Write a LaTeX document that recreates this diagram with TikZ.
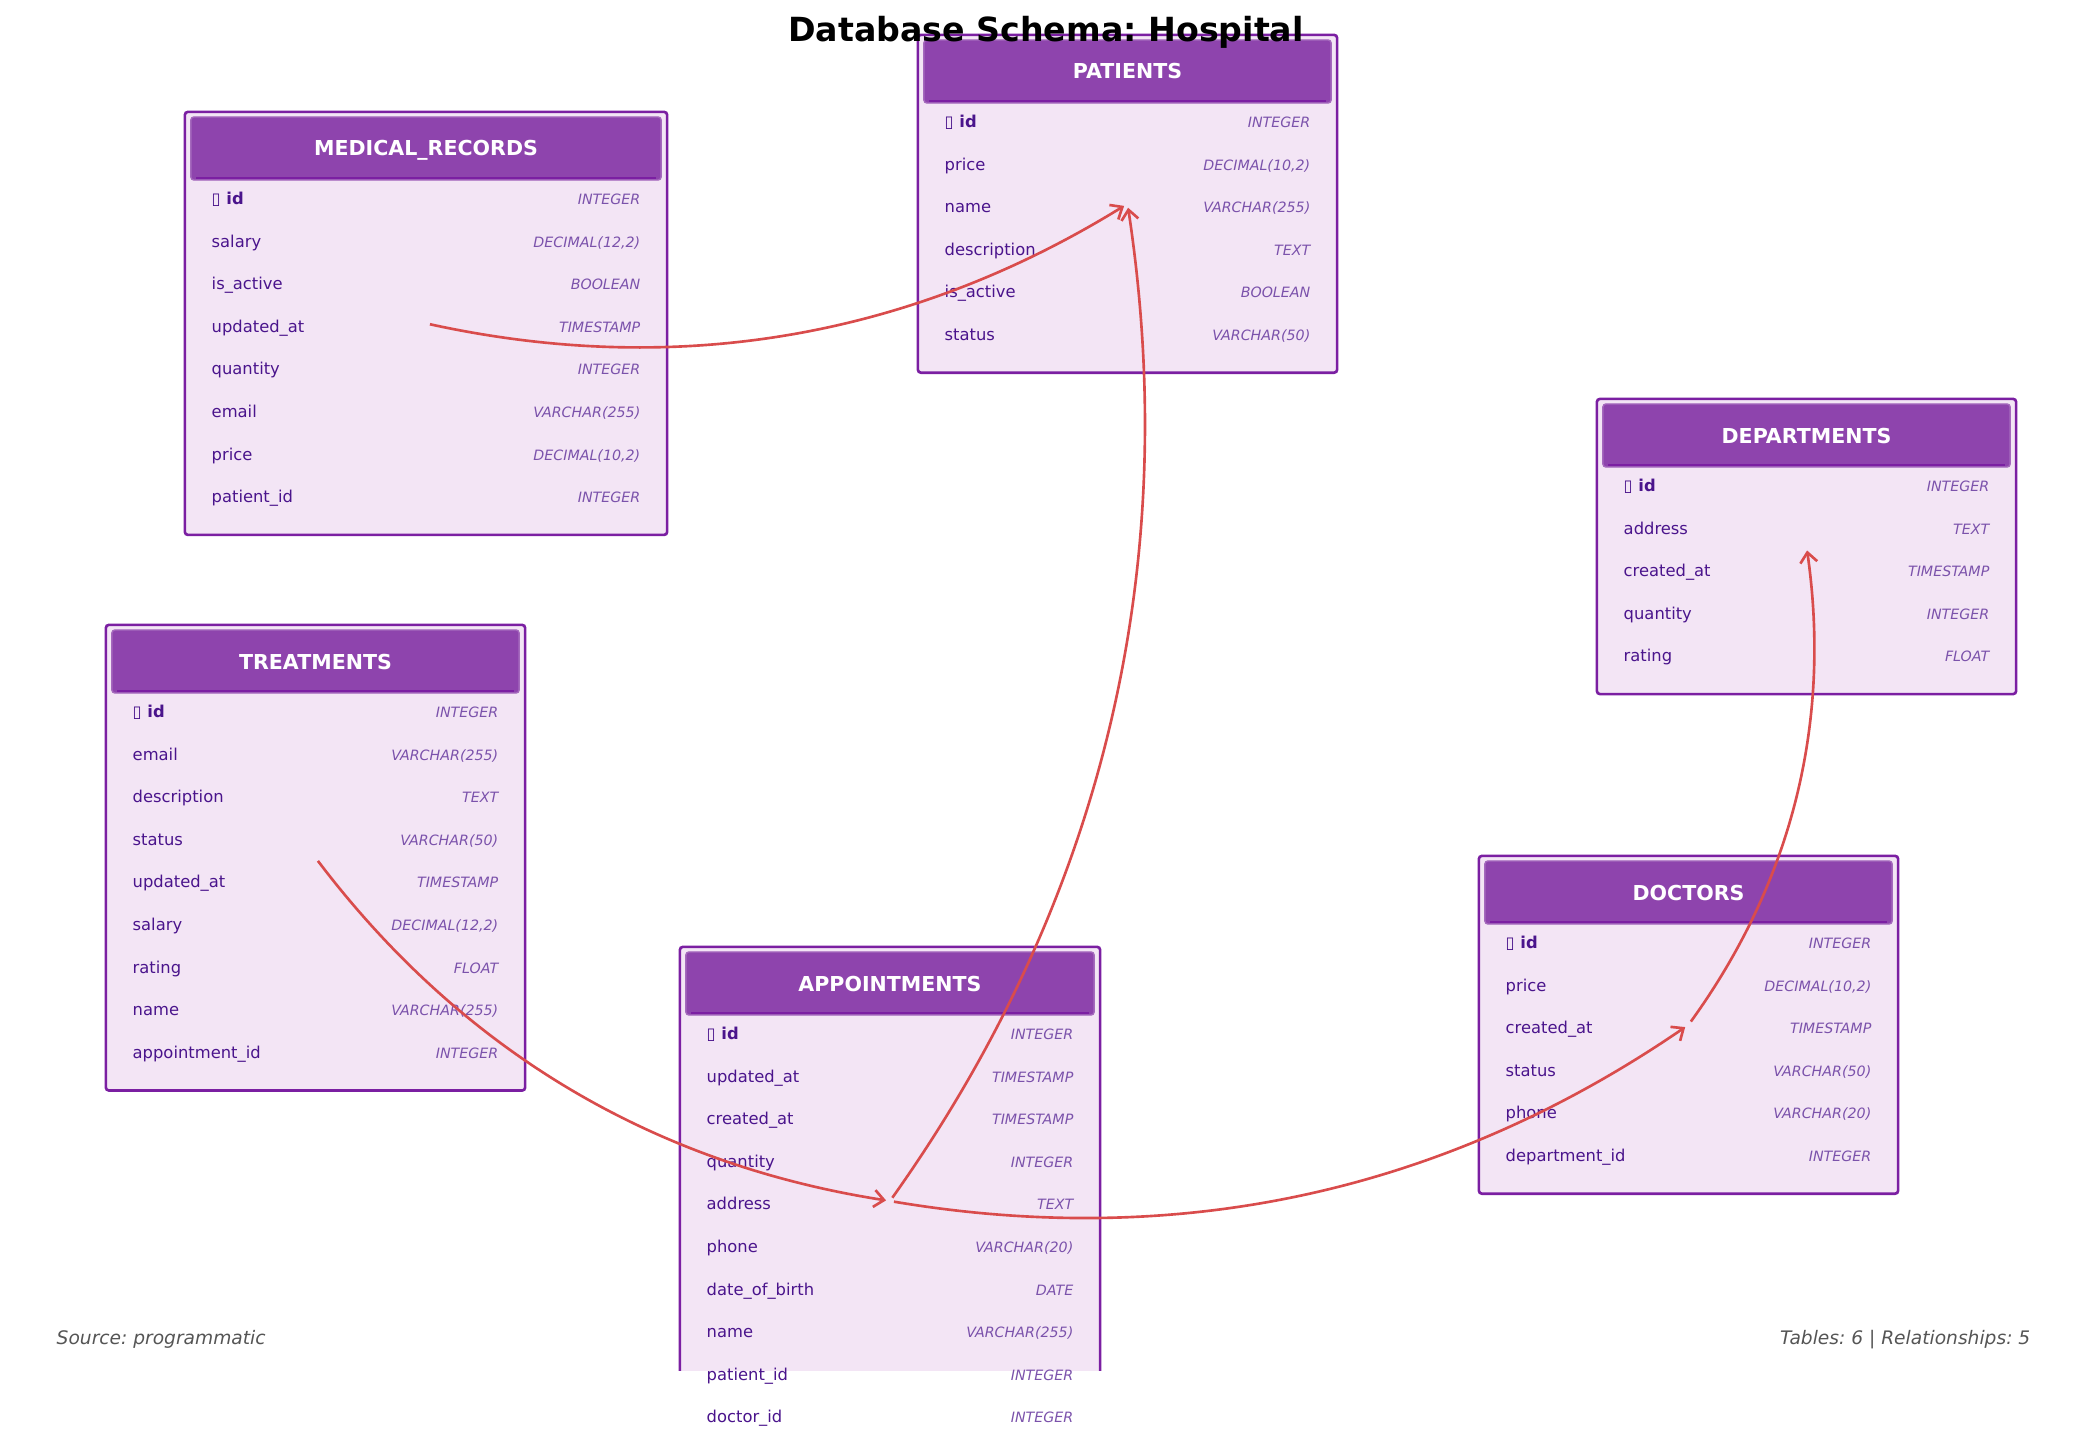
\documentclass[tikz,border=0pt]{standalone}
\usepackage{fontspec}
\setmainfont{DejaVu Sans}[ItalicFont={DejaVu Sans Oblique},BoldFont={DejaVu Sans Bold},BoldItalicFont={DejaVu Sans Bold Oblique}]
\usetikzlibrary{arrows.meta}
\frenchspacing
\definecolor{boxfill}{HTML}{F3E5F5}
\definecolor{boxline}{HTML}{7B1FA2}
\definecolor{headfill}{HTML}{8E44AD}
\definecolor{headedge}{HTML}{A569BD}
\definecolor{fldcol}{HTML}{4A148C}
\definecolor{typcol}{HTML}{7B52AB}
\definecolor{relcol}{HTML}{D94C4C}
\definecolor{footcol}{HTML}{555555}
\begin{document}
\begin{tikzpicture}[x=0.01cm,y=-0.01cm,
  tbl/.style={draw=boxline,fill=boxfill,line width=0.75pt,rounded corners=0.03cm,inner sep=0},
  head/.style={draw=headedge,fill=headfill,line width=0.4pt,rounded corners=0.03cm,minimum height=0.63cm,inner sep=0,
    text=white,font=\bfseries\fontsize{5.85}{6}\selectfont,text height=0.15cm,text depth=0cm},
  headline/.style={draw=boxline,line width=0.6pt},
  fld/.style={anchor=base west,inner sep=0,text=fldcol,font=\fontsize{4.65}{5}\selectfont},
  pk/.style={fld,font=\bfseries\fontsize{4.65}{5}\selectfont},
  typ/.style={anchor=base east,inner sep=0,text=typcol,font=\itshape\fontsize{4.05}{4.5}\selectfont},
  rel/.style={draw=relcol,line width=0.75pt,->,>={Straight Barb[length=0.1cm,width=0.17cm]},
    shorten >=0.04cm,shorten <=0.04cm,looseness=0.92},
  ttl/.style={anchor=base,inner sep=0,font=\bfseries\fontsize{9.45}{11}\selectfont},
  foot/.style={inner sep=0,text=footcol,font=\itshape\fontsize{5.3}{6}\selectfont}]
\useasboundingbox (0,0) rectangle (2085,1440);

% MEDICAL_RECORDS
\node[tbl,minimum width=4.82cm,minimum height=4.228cm] (mr) at (426,323.4) {};
\node[head,minimum width=4.70cm] (mrh) at (426,148.5) {MEDICAL\_RECORDS};
\draw[headline] ([shift={(0.06cm,0.03cm)}]mrh.south west) -- ([shift={(-0.06cm,0.03cm)}]mrh.south east);
\node[pk] (mr1) at (211,204.5) {{\mdseries ▯} id}; \node[typ] (mr1t) at (641,204.5) {INTEGER};
\node[fld] (mr2) at (211,247.1) {salary}; \node[typ] (mr2t) at (641,247.1) {DECIMAL(12,2)};
\node[fld] (mr3) at (211,289.7) {is\_active}; \node[typ] (mr3t) at (641,289.7) {BOOLEAN};
\node[fld] (mr4) at (211,332.3) {updated\_at}; \node[typ] (mr4t) at (641,332.3) {TIMESTAMP};
\node[fld] (mr5) at (211,374.9) {quantity}; \node[typ] (mr5t) at (641,374.9) {INTEGER};
\node[fld] (mr6) at (211,417.5) {email}; \node[typ] (mr6t) at (641,417.5) {VARCHAR(255)};
\node[fld] (mr7) at (211,460.1) {price}; \node[typ] (mr7t) at (641,460.1) {DECIMAL(10,2)};
\node[fld] (mr8) at (211,502.7) {patient\_id}; \node[typ] (mr8t) at (641,502.7) {INTEGER};

% PATIENTS
\node[tbl,minimum width=4.19cm,minimum height=3.376cm] (pat) at (1127.5,203.8) {};
\node[head,minimum width=4.07cm] (path) at (1127.5,71.5) {PATIENTS};
\draw[headline] ([shift={(0.06cm,0.03cm)}]path.south west) -- ([shift={(-0.06cm,0.03cm)}]path.south east);
\node[pk] (pat1) at (944,127.5) {{\mdseries ▯} id}; \node[typ] (pat1t) at (1311,127.5) {INTEGER};
\node[fld] (pat2) at (944,170.1) {price}; \node[typ] (pat2t) at (1311,170.1) {DECIMAL(10,2)};
\node[fld] (pat3) at (944,212.7) {name}; \node[typ] (pat3t) at (1311,212.7) {VARCHAR(255)};
\node[fld] (pat4) at (944,255.3) {description}; \node[typ] (pat4t) at (1311,255.3) {TEXT};
\node[fld] (pat5) at (944,297.9) {is\_active}; \node[typ] (pat5t) at (1311,297.9) {BOOLEAN};
\node[fld] (pat6) at (944,340.5) {status}; \node[typ] (pat6t) at (1311,340.5) {VARCHAR(50)};

% DEPARTMENTS
\node[tbl,minimum width=4.19cm,minimum height=2.95cm] (dep) at (1806.5,546.5) {};
\node[head,minimum width=4.07cm] (deph) at (1806.5,435.5) {DEPARTMENTS};
\draw[headline] ([shift={(0.06cm,0.03cm)}]deph.south west) -- ([shift={(-0.06cm,0.03cm)}]deph.south east);
\node[pk] (dep1) at (1623,491.5) {{\mdseries ▯} id}; \node[typ] (dep1t) at (1990,491.5) {INTEGER};
\node[fld] (dep2) at (1623,534.1) {address}; \node[typ] (dep2t) at (1990,534.1) {TEXT};
\node[fld] (dep3) at (1623,576.7) {created\_at}; \node[typ] (dep3t) at (1990,576.7) {TIMESTAMP};
\node[fld] (dep4) at (1623,619.3) {quantity}; \node[typ] (dep4t) at (1990,619.3) {INTEGER};
\node[fld] (dep5) at (1623,661.9) {rating}; \node[typ] (dep5t) at (1990,661.9) {FLOAT};

% TREATMENTS
\node[tbl,minimum width=4.19cm,minimum height=4.654cm] (tre) at (315.5,857.7) {};
\node[head,minimum width=4.07cm] (treh) at (315.5,661.5) {TREATMENTS};
\draw[headline] ([shift={(0.06cm,0.03cm)}]treh.south west) -- ([shift={(-0.06cm,0.03cm)}]treh.south east);
\node[pk] (tre1) at (132,717.5) {{\mdseries ▯} id}; \node[typ] (tre1t) at (499,717.5) {INTEGER};
\node[fld] (tre2) at (132,760.1) {email}; \node[typ] (tre2t) at (499,760.1) {VARCHAR(255)};
\node[fld] (tre3) at (132,802.7) {description}; \node[typ] (tre3t) at (499,802.7) {TEXT};
\node[fld] (tre4) at (132,845.3) {status}; \node[typ] (tre4t) at (499,845.3) {VARCHAR(50)};
\node[fld] (tre5) at (132,887.9) {updated\_at}; \node[typ] (tre5t) at (499,887.9) {TIMESTAMP};
\node[fld] (tre6) at (132,930.5) {salary}; \node[typ] (tre6t) at (499,930.5) {DECIMAL(12,2)};
\node[fld] (tre7) at (132,973.1) {rating}; \node[typ] (tre7t) at (499,973.1) {FLOAT};
\node[fld] (tre8) at (132,1015.7) {name}; \node[typ] (tre8t) at (499,1015.7) {VARCHAR(255)};
\node[fld] (tre9) at (132,1058.3) {appointment\_id}; \node[typ] (tre9t) at (499,1058.3) {INTEGER};

% APPOINTMENTS (box cut off at the bottom)
\begin{scope}
\clip (0,0) rectangle (2085,1370);
\node[tbl,minimum width=4.20cm,minimum height=5.08cm] (app) at (890,1201) {};
\end{scope}
\node[head,minimum width=4.08cm] (apph) at (890,983.5) {APPOINTMENTS};
\draw[headline] ([shift={(0.06cm,0.03cm)}]apph.south west) -- ([shift={(-0.06cm,0.03cm)}]apph.south east);
\node[pk] (app1) at (706,1039.5) {{\mdseries ▯} id}; \node[typ] (app1t) at (1074,1039.5) {INTEGER};
\node[fld] (app2) at (706,1082.1) {updated\_at}; \node[typ] (app2t) at (1074,1082.1) {TIMESTAMP};
\node[fld] (app3) at (706,1124.7) {created\_at}; \node[typ] (app3t) at (1074,1124.7) {TIMESTAMP};
\node[fld] (app4) at (706,1167.3) {quantity}; \node[typ] (app4t) at (1074,1167.3) {INTEGER};
\node[fld] (app5) at (706,1209.9) {address}; \node[typ] (app5t) at (1074,1209.9) {TEXT};
\node[fld] (app6) at (706,1252.5) {phone}; \node[typ] (app6t) at (1074,1252.5) {VARCHAR(20)};
\node[fld] (app7) at (706,1295.1) {date\_of\_birth}; \node[typ] (app7t) at (1074,1295.1) {DATE};
\node[fld] (app8) at (706,1337.7) {name}; \node[typ] (app8t) at (1074,1337.7) {VARCHAR(255)};
\node[fld] (app9) at (706,1380.3) {patient\_id}; \node[typ] (app9t) at (1074,1380.3) {INTEGER};
\node[fld] (app10) at (706,1422.9) {doctor\_id}; \node[typ] (app10t) at (1074,1422.9) {INTEGER};

% DOCTORS
\node[tbl,minimum width=4.19cm,minimum height=3.376cm] (doc) at (1688.5,1024.8) {};
\node[head,minimum width=4.07cm] (doch) at (1688.5,892.5) {DOCTORS};
\draw[headline] ([shift={(0.06cm,0.03cm)}]doch.south west) -- ([shift={(-0.06cm,0.03cm)}]doch.south east);
\node[pk] (doc1) at (1505,948.5) {{\mdseries ▯} id}; \node[typ] (doc1t) at (1872,948.5) {INTEGER};
\node[fld] (doc2) at (1505,991.1) {price}; \node[typ] (doc2t) at (1872,991.1) {DECIMAL(10,2)};
\node[fld] (doc3) at (1505,1033.7) {created\_at}; \node[typ] (doc3t) at (1872,1033.7) {TIMESTAMP};
\node[fld] (doc4) at (1505,1076.3) {status}; \node[typ] (doc4t) at (1872,1076.3) {VARCHAR(50)};
\node[fld] (doc5) at (1505,1118.9) {phone}; \node[typ] (doc5t) at (1872,1118.9) {VARCHAR(20)};
\node[fld] (doc6) at (1505,1161.5) {department\_id}; \node[typ] (doc6t) at (1872,1161.5) {INTEGER};

% relationships
\draw[rel] (mr.center) to[bend right=22] (pat.center);
\draw[rel] (app.center) to[bend right=22] (pat.center);
\draw[rel] (tre.center) to[bend right=22] (app.center);
\draw[rel] (app.center) to[bend right=22] (doc.center);
\draw[rel] (doc.center) to[bend right=22] (dep.center);

\node[ttl] (title) at (1046,42) {Database Schema: Hospital};
\node[foot,anchor=base west] (src) at (56,1344) {Source: programmatic};
\node[foot,anchor=base east] (cnt) at (2031,1344) {Tables: 6 | Relationships: 5};
\end{tikzpicture}
\end{document}
